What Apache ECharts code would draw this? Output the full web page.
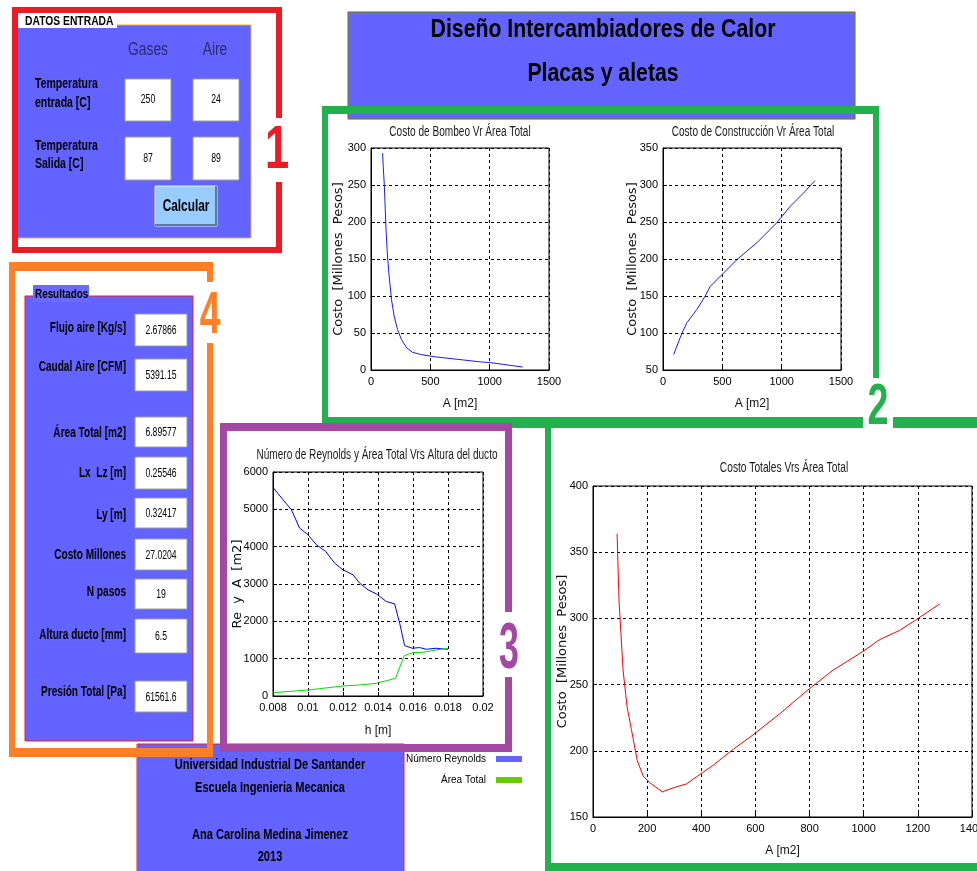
<!DOCTYPE html>
<html>
<head>
<meta charset="utf-8">
<script src="https://cdn.jsdelivr.net/npm/echarts@6/dist/echarts.min.js"></script>
<style>
html, body { margin: 0; padding: 0; background: #ffffff; }
#main { width: 977px; height: 871px; }
</style>
</head>
<body>
<div id="main"></div>
<script>
// ---- Costo de Bombeo vs Área Total ----
const bombeoArea  = [98, 103, 112, 120, 128, 139, 153, 173, 195, 223, 257, 301, 349, 418, 530, 641, 781, 920, 1004, 1115, 1277];
const bombeoCosto = [293, 275, 251, 217, 185, 154, 127, 95, 73, 55, 41, 30, 24, 21, 18, 16, 13.5, 11, 10, 7.6, 4];

// ---- Costo de Construcción vs Área Total ----
const construArea  = [90, 160, 202, 286, 356, 398, 510, 622, 791, 959, 1071, 1183, 1281];
const construCosto = [71, 100, 114, 132, 150, 163, 181, 199, 222, 249, 271, 289, 306];

// ---- Costo Totales vs Área Total ----
const totalArea  = [89, 96, 111, 126, 142, 163, 185, 209, 256, 296, 345, 394, 443, 517, 591, 690, 788, 887, 997, 1059, 1133, 1194, 1281];
const totalCosto = [364, 314, 261, 233, 216, 193, 181, 176, 169, 172, 175, 182, 189, 201, 212, 228, 245, 261, 275, 284, 291, 299, 311];

// ---- Reynolds y Área Total vs altura del ducto ----
const reH  = [0.008, 0.00857, 0.00905, 0.00952, 0.0100, 0.01048, 0.01101, 0.01152, 0.0120, 0.01257, 0.01295, 0.01343, 0.0139, 0.01448, 0.01495, 0.01524, 0.01552, 0.01596, 0.01638, 0.01676, 0.01733, 0.018];
const reVal = [5589, 5258, 4990, 4498, 4319, 4051, 3872, 3559, 3380, 3246, 3022, 2844, 2736, 2531, 2468, 1949, 1350, 1279, 1297, 1252, 1279, 1252];
const areaH   = [0.008, 0.010, 0.012, 0.01295, 0.0139, 0.0145, 0.0150, 0.0155, 0.016, 0.0166, 0.0173, 0.018];
const areaVal = [89, 161, 268, 295, 340, 411, 474, 1082, 1163, 1171, 1234, 1279];

// ---- Datos de entrada ----
const entradaFilas = [['Temperatura', 'entrada [C]'], ['Temperatura', 'Salida [C]']];
const entradaGases = ['250', '87'];
const entradaAire  = ['24', '89'];

// ---- Resultados ----
const resultadoNombres = ['Flujo aire [Kg/s]', 'Caudal Aire [CFM]', 'Área Total [m2]', 'Lx  Lz [m]', 'Ly [m]',
                          'Costo Millones', 'N pasos', 'Altura ducto [mm]', 'Presión Total [Pa]'];
const resultadoValores = ['2.67866', '5391.15', '6.89577', '0.25546', '0.32417', '27.0204', '19', '6.5', '61561.6'];

const creditos = ['Universidad Industrial De Santander', 'Escuela Ingenieria Mecanica', 'Ana Carolina Medina Jimenez', '2013'];

// ---------------------------------------------------------------
const SANS = '"Liberation Sans", Arial, sans-serif';
const AXISNAME = '"DejaVu Sans", sans-serif';
const PANEL = '#6363FF';
const RED = '#ED1C24', GREEN = '#22B14C', PURPLE = '#A349A4', ORANGE = '#FF7F27';

const pairs = (xs, ys) => xs.map((x, i) => [x, ys[i]]);

function box(x, y, w, h, fill, z, stroke, lw) {
  return { type: 'rect', silent: true, z: z,
    shape: { x: x, y: y, width: w, height: h },
    style: { fill: fill || 'none', stroke: stroke || null, lineWidth: lw || 1 } };
}
// Text anchored at (x, y); squeezed horizontally by sx to get a condensed face.
function label(x, y, str, font, fill, align, sx) {
  return { type: 'text', silent: true, z: 10, x: x, y: y, scaleX: sx || 0.78, scaleY: 1,
    style: { text: str, font: font, fill: fill || '#000', textAlign: align || 'center', textVerticalAlign: 'middle' } };
}

const g = [];

// Panel 1: datos de entrada
g.push(box(17, 25, 234, 213, PANEL, 1, '#F0B020', 1));
g.push(box(18, 16, 99, 12, '#ffffff', 2));
g.push(label(25, 22, 'DATOS ENTRADA', 'bold 12px ' + SANS, '#000', 'left', 0.86));
g.push(label(148, 50, 'Gases', '18px ' + SANS, '#2c2c6a', 'center', 0.77));
g.push(label(215, 50, 'Aire', '18px ' + SANS, '#2c2c6a', 'center', 0.77));
const filaY = [[84, 103], [146, 164]];
const boxY = [[79, 42], [137, 43]];
entradaFilas.forEach((f, i) => {
  g.push(label(35, filaY[i][0], f[0], 'bold 14px ' + SANS, '#000', 'left', 0.75));
  g.push(label(35, filaY[i][1], f[1], 'bold 14px ' + SANS, '#000', 'left', 0.75));
  g.push(box(125, boxY[i][0], 46, boxY[i][1], '#ffffff', 2, '#9c9c9c', 1));
  g.push(box(193, boxY[i][0], 46, boxY[i][1], '#ffffff', 2, '#9c9c9c', 1));
  g.push(label(148, boxY[i][0] + boxY[i][1] / 2, entradaGases[i], '12px ' + SANS, '#000', 'center', 0.72));
  g.push(label(216, boxY[i][0] + boxY[i][1] / 2, entradaAire[i], '12px ' + SANS, '#000', 'center', 0.72));
});
// Calcular button with a raised bevel
g.push(box(155, 186, 62, 40, '#99CCFF', 2, '#e6f2ff', 1));
g.push(box(155, 224, 62, 2, '#5d7a99', 2), box(215, 186, 2, 40, '#5d7a99', 2));
g.push(label(186, 207, 'Calcular', 'bold 16px ' + SANS, '#000', 'center', 0.74));

// Frame 1 (red)
g.push(box(12, 7, 270, 6, RED, 3), box(12, 7, 6, 246, RED, 3), box(12, 247, 270, 6, RED, 3),
       box(276, 7, 6, 111, RED, 3), box(276, 182, 6, 71, RED, 3));
g.push(label(277, 151, '1', 'bold 62px ' + SANS, RED, 'center', 0.7));

// Title panel
g.push(box(348, 12, 507, 107, PANEL, 1, RED, 1));
g.push(box(349, 13, 505, 105, 'none', 1, GREEN, 1));
g.push(label(603, 30, 'Diseño Intercambiadores de Calor', 'bold 25px ' + SANS, '#000', 'center', 0.85));
g.push(label(603, 74, 'Placas y aletas', 'bold 25px ' + SANS, '#000', 'center', 0.85));

// Frame 2 (green)
g.push(box(322, 106, 557, 8, GREEN, 3), box(322, 106, 6, 316, GREEN, 3), box(873, 106, 6, 272, GREEN, 3),
       box(322, 417, 541, 11, GREEN, 3), box(893, 417, 84, 11, GREEN, 3),
       box(545, 417, 6, 454, GREEN, 3), box(545, 863, 432, 8, GREEN, 3));
g.push(label(878, 408, '2', 'bold 58px ' + SANS, GREEN, 'center', 0.65));

// Panel 4: resultados
g.push(box(25, 296, 168, 445, PANEL, 1, RED, 1));
g.push(box(33, 285, 56, 17, '#6B6BFF', 2));
g.push(label(35, 294, 'Resultados', 'bold 13px ' + SANS, '#000', 'left', 0.76));
const resBox = [[314, 32], [359, 32], [417, 30], [457, 32], [498, 30], [539, 31], [579, 30], [619, 34], [681, 31]];
const resLabelY = [328, 367, 433, 473, 515, 555, 592, 635, 692];
resultadoNombres.forEach((n, i) => {
  g.push(label(126, resLabelY[i], n, 'bold 14px ' + SANS, '#000', 'right', 0.72));
  g.push(box(135, resBox[i][0], 52, resBox[i][1], '#ffffff', 2, '#9c9c9c', 1));
  g.push(label(161, resBox[i][0] + resBox[i][1] / 2 + 1, resultadoValores[i], '12px ' + SANS, '#000', 'center', 0.72));
});

// Credits panel
g.push(box(137, 744, 267, 130, PANEL, 1, RED, 1));
g.push(box(137, 744, 1, 127, GREEN, 1));
[765, 788, 835, 857].forEach((y, i) => g.push(label(270, y, creditos[i], 'bold 14px ' + SANS, '#000', 'center', 0.79)));

// Frame 4 (orange)
g.push(box(9, 262, 204, 9, ORANGE, 4), box(9, 262, 6, 495, ORANGE, 4), box(9, 748, 204, 9, ORANGE, 4),
       box(207, 262, 6, 20, ORANGE, 4), box(207, 343, 6, 414, ORANGE, 4));
g.push(label(210, 316, '4', 'bold 60px ' + SANS, ORANGE, 'center', 0.62));

// Frame 3 (purple)
g.push(box(220, 423, 292, 8, PURPLE, 4), box(220, 423, 7, 329, PURPLE, 4), box(220, 744, 292, 8, PURPLE, 4),
       box(505, 423, 7, 189, PURPLE, 4), box(505, 677, 7, 75, PURPLE, 4));
g.push(label(509, 650, '3', 'bold 64px ' + SANS, PURPLE, 'center', 0.56));

// Plot titles
g.push(label(460, 132, 'Costo de Bombeo Vr Área Total', '14px ' + SANS, '#1a1a1a', 'center', 0.72));
g.push(label(753, 132, 'Costo de Construcción Vr Área Total', '14px ' + SANS, '#1a1a1a', 'center', 0.72));
g.push(label(377, 455, 'Número de Reynolds y Área Total Vrs Altura del ducto', '14px ' + SANS, '#1a1a1a', 'center', 0.72));
g.push(label(784, 468, 'Costo Totales Vrs Área Total', '15px ' + SANS, '#1a1a1a', 'center', 0.68));

// ---------------------------------------------------------------
const grids = [
  { left: 371, top: 148, width: 178, height: 222 },
  { left: 663, top: 148, width: 178, height: 222 },
  { left: 273, top: 472, width: 210, height: 224 },
  { left: 593, top: 486, width: 379, height: 331 }
].map(r => Object.assign({ show: true, borderColor: '#000', borderWidth: 1, backgroundColor: '#fff',
                           containLabel: false, outerBoundsMode: 'none' }, r));

const tickText = v => String(+v.toFixed(6));

function axis(idx, min, max, interval, name, gap, isY) {
  return {
    type: 'value', gridIndex: idx, min: min, max: max, interval: interval,
    name: name, nameLocation: 'middle', nameGap: gap, nameMoveOverlap: false,
    nameTextStyle: isY ? { fontFamily: AXISNAME, fontSize: 13, color: '#111' }
                       : { fontFamily: SANS, fontSize: 12, color: '#111' },
    axisLine: { show: true, onZero: false, lineStyle: { color: '#000', width: 1 } },
    axisTick: { show: true, inside: true, length: 4, lineStyle: { color: '#000' } },
    axisLabel: { fontFamily: SANS, fontSize: 11, color: '#000', margin: isY ? 5 : 6, formatter: tickText,
                 showMinLabel: true, showMaxLabel: true, hideOverlap: false },
    splitLine: { show: true, lineStyle: { color: '#000', type: [3, 3], width: 1 } }
  };
}

const option = {
  animation: false,
  backgroundColor: '#ffffff',
  grid: grids,
  xAxis: [
    axis(0, 0, 1500, 500, 'A [m2]', 28, false),
    axis(1, 0, 1500, 500, 'A [m2]', 28, false),
    axis(2, 0.008, 0.02, 0.002, 'h [m]', 29, false),
    axis(3, 0, 1400, 200, 'A [m2]', 28, false)
  ],
  yAxis: [
    axis(0, 0, 300, 50, 'Costo  [Millones  Pesos]', 26, true),
    axis(1, 50, 350, 50, 'Costo  [Millones  Pesos]', 24, true),
    axis(2, 0, 6000, 1000, 'Re  y  A  [m2]', 29, true),
    axis(3, 150, 400, 50, 'Costo  [Millones  Pesos]', 24, true)
  ],
  legend: [
    { right: 455, top: 754, padding: 0, icon: 'rect', itemWidth: 26, itemHeight: 6, align: 'right',
      textStyle: { fontFamily: SANS, fontSize: 10, color: '#000', padding: [0, 5, 0, 0] },
      data: [{ name: 'Número Reynolds', itemStyle: { color: '#6666FF' } }] },
    { right: 455, top: 775, padding: 0, icon: 'rect', itemWidth: 26, itemHeight: 6, align: 'right',
      textStyle: { fontFamily: SANS, fontSize: 10, color: '#000', padding: [0, 5, 0, 0] },
      data: [{ name: 'Área Total', itemStyle: { color: '#66CC00' } }] }
  ],
  graphic: { elements: g },
  series: [
    { name: 'Costo de Bombeo', type: 'line', xAxisIndex: 0, yAxisIndex: 0, showSymbol: false, symbol: 'none',
      lineStyle: { color: '#1a1aff', width: 1 }, data: pairs(bombeoArea, bombeoCosto) },
    { name: 'Costo de Construcción', type: 'line', xAxisIndex: 1, yAxisIndex: 1, showSymbol: false, symbol: 'none',
      lineStyle: { color: '#1a1aff', width: 1 }, data: pairs(construArea, construCosto) },
    { name: 'Número Reynolds', type: 'line', xAxisIndex: 2, yAxisIndex: 2, showSymbol: false, symbol: 'none',
      color: '#0000FF', lineStyle: { color: '#0000FF', width: 1 }, data: pairs(reH, reVal) },
    { name: 'Área Total', type: 'line', xAxisIndex: 2, yAxisIndex: 2, showSymbol: false, symbol: 'none',
      color: '#00E000', lineStyle: { color: '#00E000', width: 1 }, data: pairs(areaH, areaVal) },
    { name: 'Costo Totales', type: 'line', xAxisIndex: 3, yAxisIndex: 3, showSymbol: false, symbol: 'none',
      lineStyle: { color: '#FF0000', width: 1 }, data: pairs(totalArea, totalCosto) }
  ]
};

const chart = echarts.init(document.getElementById('main'), null, { renderer: 'canvas' });
chart.setOption(option);
</script>
</body>
</html>
